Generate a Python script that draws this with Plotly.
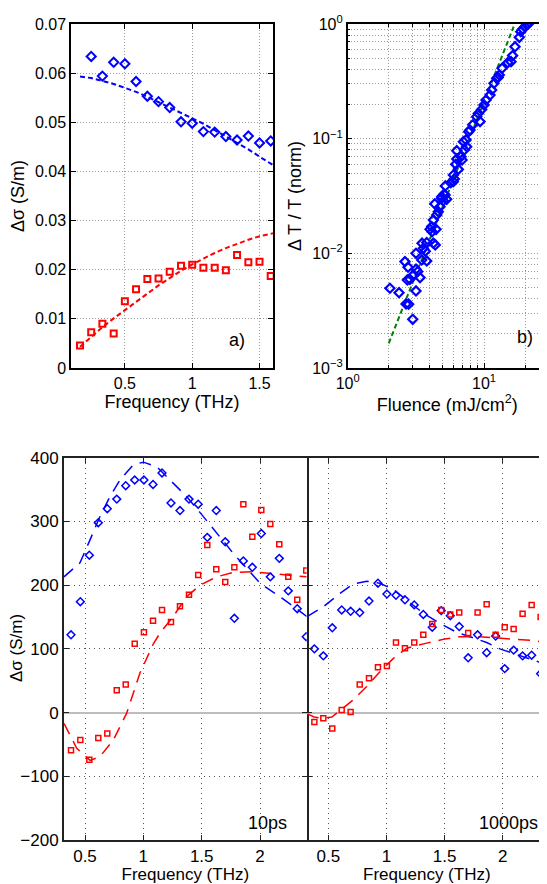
import plotly.graph_objects as go

# ---------------- data ----------------
# panel a
a_freq_blue = [0.25, 0.333, 0.417, 0.5, 0.583, 0.667, 0.75, 0.833, 0.917, 1.0, 1.083,
               1.167, 1.25, 1.333, 1.417, 1.5, 1.583]
a_sig_blue = [0.0634, 0.0594, 0.0622, 0.0619, 0.0583, 0.0553, 0.0542, 0.0530, 0.0501, 0.0498,
              0.0481, 0.0480, 0.0471, 0.0464, 0.0472, 0.0458, 0.0462]
a_freq_red = [0.167, 0.25, 0.333, 0.417, 0.5, 0.583, 0.667, 0.75, 0.833, 0.917, 1.0, 1.083,
              1.167, 1.25, 1.333, 1.417, 1.5, 1.583]
a_sig_red = [0.0046, 0.0073, 0.0090, 0.0070, 0.0136, 0.0160, 0.0181, 0.0182, 0.0196, 0.0208,
             0.0210, 0.0204, 0.0204, 0.0199, 0.0230, 0.0215, 0.0216, 0.0187]
a_fit_freq = [0.167, 0.25, 0.333, 0.417, 0.5, 0.583, 0.667, 0.75, 0.833, 0.917, 1.0, 1.083,
              1.167, 1.25, 1.333, 1.417, 1.5, 1.6]
a_fit_blue = [0.0593, 0.0590, 0.0584, 0.0578, 0.0570, 0.0562, 0.0552, 0.0541, 0.0530, 0.0520,
              0.0509, 0.0497, 0.0484, 0.0471, 0.0458, 0.0445, 0.0430, 0.0413]
a_fit_red = [0.0043, 0.0063, 0.0083, 0.0101, 0.0118, 0.0135, 0.0152, 0.0168, 0.0183, 0.0198,
             0.0211, 0.0223, 0.0234, 0.0244, 0.0253, 0.0261, 0.0268, 0.0274]

# panel b
b_fluence = [2.04, 2.38, 2.63, 2.77, 2.68, 2.80, 2.74, 2.86, 3.0, 3.17, 3.03, 3.17, 3.26, 3.17,
             3.39, 3.49, 3.51, 3.59, 3.80, 3.80, 3.71, 4.02, 4.16, 4.25, 4.39, 4.45, 4.13, 4.25,
             4.50, 4.62, 4.76, 4.35, 4.89, 5.18, 5.32, 5.03, 5.20, 5.70, 5.95, 4.89, 5.09, 6.06,
             5.96, 6.20, 6.48, 6.31, 6.78, 6.90, 6.31, 7.06, 7.38, 7.17, 7.46, 7.72, 7.89, 8.26,
             8.83, 9.08, 9.35, 9.62, 10.0, 10.35, 11.07, 11.38, 11.84, 12.39, 12.70, 12.95, 13.56,
             14.93, 15.78, 16.2, 16.88, 18.16, 18.59, 19.23, 20.0, 20.57, 21.14]
b_dTT = [0.00496, 0.00454, 0.00847, 0.00757, 0.00362, 0.0036, 0.00586, 0.00594, 0.00266, 0.0047,
         0.00648, 0.00727, 0.00693, 0.0100, 0.00614, 0.00875, 0.01225, 0.01107, 0.0124, 0.00859,
         0.01043, 0.0162, 0.01546, 0.01225, 0.01184, 0.0162, 0.0171, 0.01955, 0.0216, 0.0231,
         0.0255, 0.0270, 0.0302, 0.0323, 0.0296, 0.0288, 0.0387, 0.0413, 0.0422, 0.0312, 0.0327,
         0.0446, 0.0482, 0.0598, 0.054, 0.0665, 0.0697, 0.0652, 0.0786, 0.0942, 0.0975, 0.0797,
         0.0851, 0.115, 0.119, 0.132, 0.155, 0.166, 0.141, 0.180, 0.197, 0.217, 0.240, 0.266,
         0.304, 0.336, 0.342, 0.359, 0.411, 0.460, 0.469, 0.53, 0.634, 0.765, 0.857, 0.904,
         0.948, 0.98, 1.0]
b_fit_fluence = [2.0, 16.5]
b_fit_dTT = [0.00164, 0.95]

# panel c (10 ps)
c_freq = [0.38, 0.46, 0.537, 0.614, 0.691, 0.772, 0.849, 0.926, 1.005, 1.083, 1.16, 1.237,
          1.314, 1.391, 1.47, 1.548, 1.625, 1.702, 1.78, 1.857, 1.934, 2.011, 2.088, 2.165,
          2.242, 2.319, 2.396]
c_blue = [122, 174, 247, 298, 320, 335, 356, 365, 365, 358, 376, 329, 317, 335, 327, 275, 317,
          268, 148, 238, 228, 281, 213, 242, 191, 163, 119]
c_red = [-59, -43, -74, -40, -33, 35, 44, 108, 126, 144, 161, 142, 167, 185, 216, 263, 225, 205,
         228, 327, 276, 318, 296, 264, 213, 177, 223]
c_fit_blue_freq = [0.32, 0.4, 0.457, 0.543, 0.629, 0.714, 0.8, 0.914, 1.0, 1.114, 1.257, 1.371,
                   1.49, 1.629, 1.77, 2.0, 2.2, 2.4]
c_fit_blue = [213, 225, 235, 271, 308, 339, 365, 389, 393, 386, 360, 339, 313, 282, 250, 203,
              178, 151]
c_fit_red_freq = [0.32, 0.429, 0.543, 0.629, 0.743, 0.857, 0.971, 1.086, 1.14, 1.257, 1.371,
                  1.486, 1.629, 1.77, 1.94, 2.2, 2.4]
c_fit_red = [-17, -56, -75, -69, -43, -1, 62, 108, 124, 151, 182, 200, 213, 220, 221, 216, 213]

# panel d (1000 ps)
d_freq = [0.38, 0.457, 0.534, 0.615, 0.692, 0.77, 0.85, 0.927, 1.004, 1.082, 1.159, 1.239,
          1.317, 1.394, 1.471, 1.549, 1.626, 1.703, 1.784, 1.862, 1.939, 2.017, 2.094, 2.171,
          2.249, 2.326]
d_blue = [100, 89, 133, 161, 159, 157, 175, 203, 186, 184, 177, 169, 154, 134, 160, 152, 135,
          86, 122, 94, 120, 69, 98, 89, 90, 61]
d_red = [-15, -9, -25, 4, 1, 44, 54, 71, 73, 110, 101, 110, 122, 139, 161, 154, 157, 125, 157,
         170, 122, 134, 131, 155, 169, 150]
d_fit_blue_freq = [0.32, 0.457, 0.6, 0.715, 0.83, 0.944, 1.06, 1.174, 1.317, 1.46, 1.604,
                   1.862, 1.976, 2.09, 2.26, 2.381]
d_fit_blue = [151, 166, 187, 202, 206, 203, 193, 177, 156, 140, 126, 110, 100, 93, 83, 75]
d_fit_red_freq = [0.32, 0.377, 0.45, 0.53, 0.6, 0.715, 0.83, 0.944, 1.06, 1.174, 1.346, 1.49,
                  1.63, 1.80, 1.948, 2.15, 2.26, 2.381]
d_fit_red = [-2, -7, -9, -7, 3, 20, 41, 64, 85, 101, 109, 115, 119, 119, 117, 115, 113, 110]

# tick labels
b_xtickvals = [1, 10, 100]
b_xticktext = ["10<sup>0</sup>", "10<sup>1</sup>", "10<sup>2</sup>"]
b_ytickvals = [0.001, 0.01, 0.1, 1]
b_yticktext = ["10<sup>\u22123</sup>", "10<sup>\u22122</sup>", "10<sup>\u22121</sup>", "10<sup>0</sup>"]

# ---------------- figure ----------------
# the page body has an 8px margin, so the figure is sized to fill the rest of the window
OFF = 8
W, H = 547 - OFF, 884 - OFF
BLUE = "#0000ff"
RED = "#ff0000"
GREEN = "#008000"
FONT = "Liberation Sans, Arial, sans-serif"

fig = go.Figure()

def px_x(p):
    return (p - OFF) / W

def px_y(p):
    return 1 - (p - OFF) / H

# panel a
fig.add_trace(go.Scatter(x=a_fit_freq, y=a_fit_blue, mode="lines",
                         line=dict(color=BLUE, width=2, dash="5px,3px"),
                         xaxis="x", yaxis="y", showlegend=False))
fig.add_trace(go.Scatter(x=a_fit_freq, y=a_fit_red, mode="lines",
                         line=dict(color=RED, width=2, dash="5px,3px"),
                         xaxis="x", yaxis="y", showlegend=False))
fig.add_trace(go.Scatter(x=a_freq_blue, y=a_sig_blue, mode="markers",
                         marker=dict(symbol="diamond-open", size=7, color=BLUE,
                                     line=dict(width=2, color=BLUE)),
                         xaxis="x", yaxis="y", showlegend=False))
fig.add_trace(go.Scatter(x=a_freq_red, y=a_sig_red, mode="markers",
                         marker=dict(symbol="square-open", size=6, color=RED,
                                     line=dict(width=2, color=RED)),
                         xaxis="x", yaxis="y", showlegend=False))

# panel b
fig.add_trace(go.Scatter(x=b_fit_fluence, y=b_fit_dTT, mode="lines",
                         line=dict(color=GREEN, width=2, dash="5px,3px"),
                         xaxis="x2", yaxis="y2", showlegend=False))
fig.add_trace(go.Scatter(x=b_fluence, y=b_dTT, mode="markers",
                         marker=dict(symbol="diamond-open", size=7, color=BLUE,
                                     line=dict(width=2.2, color=BLUE)),
                         xaxis="x2", yaxis="y2", showlegend=False))

# panels c, d
for xs, ys, col, ax, ay in [(c_fit_blue_freq, c_fit_blue, BLUE, "x3", "y3"),
                             (c_fit_red_freq, c_fit_red, RED, "x3", "y3"),
                             (d_fit_blue_freq, d_fit_blue, BLUE, "x4", "y4"),
                             (d_fit_red_freq, d_fit_red, RED, "x4", "y4")]:
    fig.add_trace(go.Scatter(x=xs, y=ys, mode="lines",
                             line=dict(color=col, width=1.5, dash="12px,8px"),
                             xaxis=ax, yaxis=ay, showlegend=False))
for xs, ys, col, sym, sz, ax, ay in [(c_freq, c_blue, BLUE, "diamond-open", 6, "x3", "y3"),
                                     (c_freq, c_red, RED, "square-open", 5, "x3", "y3"),
                                     (d_freq, d_blue, BLUE, "diamond-open", 6, "x4", "y4"),
                                     (d_freq, d_red, RED, "square-open", 5, "x4", "y4")]:
    fig.add_trace(go.Scatter(x=xs, y=ys, mode="markers",
                             marker=dict(symbol=sym, size=sz, color=col,
                                         line=dict(width=1.5, color=col)),
                             xaxis=ax, yaxis=ay, showlegend=False))

tick_top = dict(family=FONT, size=16, color="black")
tick_bot = dict(family=FONT, size=17, color="black")
title_top = dict(family=FONT, size=18, color="black")
title_bot = dict(family=FONT, size=17, color="black")

common_top = dict(showline=True, linecolor="black", linewidth=1.5, ticks="inside",
                  ticklen=5, tickcolor="black", showgrid=True, gridcolor="#9a9a9a",
                  griddash="1px,2px", gridwidth=1, zeroline=False, tickfont=tick_top,
                  automargin=False)
common_bot = dict(linecolor="#222", linewidth=2, ticks="inside",
                  ticklen=5, tickcolor="#222", showgrid=True, gridcolor="#555",
                  griddash="1px,4px", gridwidth=1, tickfont=tick_bot, automargin=False)

fig.update_layout(
    width=W, height=H,
    margin=dict(l=0, r=0, t=0, b=0, autoexpand=False),
    paper_bgcolor="white", plot_bgcolor="white",
    font=dict(family=FONT, color="black"),
    xaxis=dict(domain=[px_x(71), px_x(273)], range=[0.1, 1.6], anchor="y",
               tickvals=[0.5, 1, 1.5], ticktext=["0.5", "1", "1.5"], mirror="ticks",
               title=dict(text="Frequency (THz)", font=title_top, standoff=2), **common_top),
    yaxis=dict(domain=[px_y(368), px_y(24)], range=[0, 0.07], anchor="x",
               tickvals=[0, 0.01, 0.02, 0.03, 0.04, 0.05, 0.06, 0.07],
               ticktext=["0", "0.01", "0.02", "0.03", "0.04", "0.05", "0.06", "0.07"],
               mirror="ticks",
               title=dict(text="\u0394\u03c3 (S/m)", font=title_top, standoff=6), **common_top),
    xaxis2=dict(domain=[px_x(347.7), 1.0], type="log", range=[0, 1.462], anchor="y2",
                tickvals=b_xtickvals, ticktext=b_xticktext, mirror="ticks",
                minor=dict(dtick="D1", showgrid=True, gridcolor="#9a9a9a", griddash="1px,2px",
                           ticks="inside", ticklen=3, tickcolor="black"),
                title=dict(text="Fluence (mJ/cm<sup>2</sup>)", font=title_top, standoff=4),
                **common_top),
    yaxis2=dict(domain=[px_y(368), px_y(24)], type="log", range=[-3, 0], anchor="x2",
                tickvals=b_ytickvals, ticktext=b_yticktext, mirror=False,
                minor=dict(dtick="D1", showgrid=True, gridcolor="#9a9a9a", griddash="1px,2px",
                           ticks="inside", ticklen=3, tickcolor="black"),
                title=dict(text="\u0394 T / T (norm)", font=title_top, standoff=6),
                **common_top),
    xaxis3=dict(domain=[px_x(64), px_x(306.7)], range=[0.32, 2.4], anchor="y3",
                tickvals=[0.5, 1, 1.5, 2], ticktext=["0.5", "1", "1.5", "2"], mirror="ticks",
                showline=True, zeroline=False,
                title=dict(text="Frequency (THz)", font=title_bot, standoff=1), **common_bot),
    yaxis3=dict(domain=[px_y(840), px_y(457.7)], range=[-200, 400], anchor="x3",
                tickvals=[-200, -100, 0, 100, 200, 300, 400],
                ticktext=["\u2212200", "\u2212100", "0", "100", "200", "300", "400"],
                showline=True, mirror="ticks", zeroline=True, zerolinecolor="#bdbdbd",
                zerolinewidth=1.5, **common_bot),
    xaxis4=dict(domain=[px_x(306.7), 1.0], range=[0.314, 2.381], anchor="y4",
                tickvals=[0.5, 1, 1.5, 2], ticktext=["0.5", "1", "1.5", "2"], mirror="ticks",
                showline=True, zeroline=False,
                title=dict(text="Frequency (THz)", font=title_bot, standoff=1), **common_bot),
    yaxis4=dict(domain=[px_y(840), px_y(457.7)], range=[-200, 400], anchor="x4",
                tickvals=[-200, -100, 0, 100, 200, 300, 400], showticklabels=False,
                showline=False, mirror=False, zeroline=True, zerolinecolor="#bdbdbd",
                zerolinewidth=1.5, **common_bot),
    annotations=[
        dict(text="a)", x=1.331, y=0.0057, xref="x", yref="y", showarrow=False,
             font=dict(family=FONT, size=18, color="black")),
        dict(text="b)", x=1.301, y=-2.726, xref="x2", yref="y2", showarrow=False,
             font=dict(family=FONT, size=18, color="black")),
        dict(text="10ps", x=2.068, y=-173, xref="x3", yref="y3", showarrow=False,
             font=dict(family=FONT, size=18, color="black")),
        dict(text="1000ps", x=2.047, y=-173, xref="x4", yref="y4", showarrow=False,
             font=dict(family=FONT, size=18, color="black")),
        dict(text="\u0394\u03c3 (S/m)", x=px_x(16), y=px_y(648), xref="paper", yref="paper",
             textangle=-90, showarrow=False, xanchor="center", yanchor="middle",
             font=dict(family=FONT, size=17, color="black")),
    ],
)

fig.write_html("out.html")
